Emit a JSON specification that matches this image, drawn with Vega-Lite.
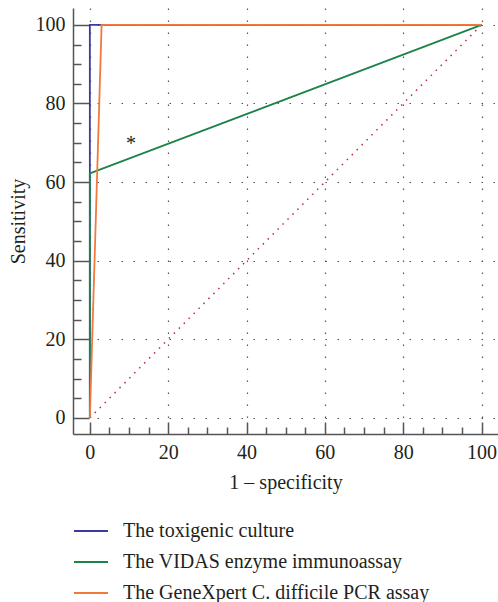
{
  "$schema": "https://vega.github.io/schema/vega-lite/v6.json",
  "width": 425,
  "height": 426,
  "autosize": {"type": "none"},
  "padding": {"left": 73, "top": 8, "right": 0, "bottom": 168},
  "background": "white",
  "config": {
    "view": {"stroke": null},
    "font": "Liberation Serif",
    "axis": {"labelFont": "Liberation Serif", "titleFont": "Liberation Serif", "labelFontSize": 20, "titleFontSize": 20, "titleFontWeight": "normal", "labelColor": "#231f20", "titleColor": "#231f20", "domainColor": "#555555", "tickColor": "#555555", "domainWidth": 1.5, "tickWidth": 1.5},
    "legend": {"labelFont": "Liberation Serif", "labelFontSize": 20, "labelColor": "#231f20", "labelLimit": 0}
  },
  "resolve": {"axis": {"x": "independent", "y": "independent"}},
  "datasets": {
    "roc": [
      {"test": "The toxigenic culture", "i": 0, "fpr": 0, "sens": 0},
      {"test": "The toxigenic culture", "i": 1, "fpr": 0, "sens": 100},
      {"test": "The toxigenic culture", "i": 2, "fpr": 100, "sens": 100},
      {"test": "The VIDAS enzyme immunoassay", "i": 0, "fpr": 0, "sens": 0},
      {"test": "The VIDAS enzyme immunoassay", "i": 1, "fpr": 0, "sens": 62.2},
      {"test": "The VIDAS enzyme immunoassay", "i": 2, "fpr": 100, "sens": 100},
      {"test": "The GeneXpert C. difficile PCR assay", "i": 0, "fpr": 0, "sens": 0},
      {"test": "The GeneXpert C. difficile PCR assay", "i": 1, "fpr": 3, "sens": 100},
      {"test": "The GeneXpert C. difficile PCR assay", "i": 2, "fpr": 100, "sens": 100}
    ],
    "diag": [
      {"fpr": 0, "sens": 0},
      {"fpr": 100, "sens": 100}
    ],
    "note": [
      {"fpr": 10.5, "sens": 69.8, "label": "*"}
    ]
  },
  "layer": [
    {
      "data": {"name": "diag"},
      "mark": {"type": "point", "opacity": 0},
      "encoding": {
        "x": {"field": "fpr", "type": "quantitative", "scale": {"domain": [-4.3, 104.2], "nice": false, "zero": false},
          "axis": {"orient": "bottom", "values": [5, 10, 15, 25, 30, 35, 45, 50, 55, 65, 70, 75, 85, 90, 95], "labels": false, "domain": false, "grid": false, "tickSize": -7, "title": null}},
        "y": {"field": "sens", "type": "quantitative", "scale": {"domain": [-4.1, 104.3], "nice": false, "zero": false},
          "axis": {"orient": "left", "values": [5, 10, 15, 25, 30, 35, 45, 50, 55, 65, 70, 75, 85, 90, 95], "labels": false, "domain": false, "grid": false, "tickSize": -8, "title": null}}
      }
    },
    {
      "data": {"name": "diag"},
      "mark": {"type": "line", "color": "#b5303a", "strokeWidth": 1.5, "strokeDash": [1.5, 5.5]},
      "encoding": {
        "x": {"field": "fpr", "type": "quantitative",
          "axis": {"orient": "bottom", "values": [0, 20, 40, 60, 80, 100], "title": "1 \u2013 specificity", "tickSize": -12, "labelPadding": 20, "titlePadding": 10, "grid": true, "gridDash": [1.5, 10.5], "gridColor": "#555555", "gridWidth": 1.2}},
        "y": {"field": "sens", "type": "quantitative",
          "axis": {"orient": "left", "values": [0, 20, 40, 60, 80, 100], "title": "Sensitivity", "tickSize": -16, "labelPadding": 24, "titlePadding": 7, "grid": true, "gridDash": [1.5, 10.5], "gridColor": "#555555", "gridWidth": 1.2}}
      }
    },
    {
      "data": {"name": "roc"},
      "mark": {"type": "line", "strokeWidth": 1.8},
      "encoding": {
        "x": {"field": "fpr", "type": "quantitative", "axis": null},
        "y": {"field": "sens", "type": "quantitative", "axis": null},
        "order": {"field": "i"},
        "color": {"field": "test", "type": "nominal",
          "scale": {"domain": ["The toxigenic culture", "The VIDAS enzyme immunoassay", "The GeneXpert C. difficile PCR assay"], "range": ["#3a3aa0", "#1a8446", "#f07a3e"]},
          "legend": {"title": null, "orient": "none", "legendX": 0, "legendY": 505, "direction": "vertical", "symbolType": "stroke", "symbolSize": 1156, "symbolStrokeWidth": 2, "labelOffset": 14, "rowPadding": 3, "padding": 0}}
      }
    },
    {
      "data": {"name": "note"},
      "mark": {"type": "text", "fontSize": 20, "font": "Liberation Serif", "color": "#231f20", "baseline": "middle"},
      "encoding": {
        "x": {"field": "fpr", "type": "quantitative", "axis": null},
        "y": {"field": "sens", "type": "quantitative", "axis": null},
        "text": {"field": "label"}
      }
    }
  ]
}
